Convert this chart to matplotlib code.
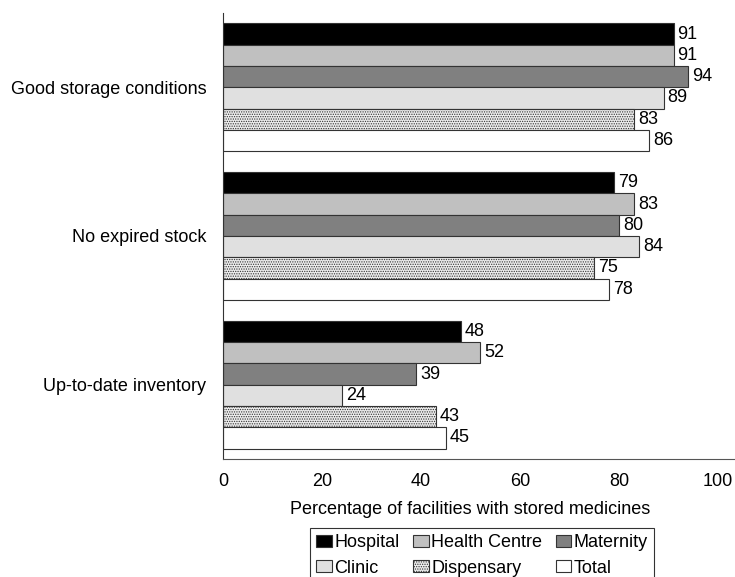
import numpy as np
import matplotlib.pyplot as plt

plt.rcParams['font.family'] = ['Liberation Sans', 'DejaVu Sans']
plt.rcParams['hatch.color'] = '#c4c4c4'
plt.rcParams['hatch.linewidth'] = 0.6

categories = ['Good storage conditions', 'No expired stock', 'Up-to-date inventory']
series = ['Hospital', 'Health Centre', 'Maternity', 'Clinic', 'Dispensary', 'Total']
values = {
    'Hospital':      [91, 79, 48],
    'Health Centre': [91, 83, 52],
    'Maternity':     [94, 80, 39],
    'Clinic':        [89, 84, 24],
    'Dispensary':    [83, 75, 43],
    'Total':         [86, 78, 45],
}
colors = ['#000000', '#c0c0c0', '#808080', '#e0e0e0', '#ececec', '#ffffff']
hatches = [None, None, None, None, '.......', None]

fig = plt.figure(figsize=[7.35, 5.77], dpi=100)
ax = fig.add_axes([0.3034, 0.2045, 0.6966, 0.773])

n = len(series)
h = 0.86 / n
y = np.arange(len(categories))
handles = []
for i, s in enumerate(series):
    pos = y - 0.43 + h * (i + 0.5)
    bars = ax.barh(pos, values[s], height=h, color=colors[i], edgecolor='#333333',
                   linewidth=0.8, hatch=hatches[i], label=s)
    handles.append(bars)
    for b, v in zip(bars, values[s]):
        ax.text(v + 0.8, b.get_y() + b.get_height() / 2, str(v), va='center', ha='left', fontsize=13)

ax.set_ylim(len(categories) - 0.5, -0.5)
ax.set_xlim(0, 103.4)
ax.set_xticks([0, 20, 40, 60, 80, 100])
ax.set_yticks(y)
ax.set_yticklabels(categories, fontsize=13)
ax.tick_params(axis='y', length=0, pad=12)
ax.tick_params(axis='x', labelsize=13, length=0, pad=10)
ax.spines['top'].set_visible(False)
ax.spines['right'].set_visible(False)
ax.spines['left'].set_color('#333333')
ax.spines['bottom'].set_color('#555555')
ax.set_xlabel('Percentage of facilities with stored medicines', fontsize=13)
ax.xaxis.set_label_coords(100 / 103.4 * 0.5, -0.095)

# legend fills row by row in the reference
order = [0, 3, 1, 4, 2, 5]
leg = ax.legend([handles[k] for k in order], [series[k] for k in order],
                loc='upper left', bbox_to_anchor=(87 / 512, -0.155), ncol=3, fontsize=13,
                frameon=True, fancybox=False, edgecolor='black', handlelength=0.85,
                handleheight=0.65, handletextpad=0.15, columnspacing=0.75, borderpad=0.35,
                labelspacing=0.45, borderaxespad=0)
leg.get_frame().set_linewidth(0.8)

plt.savefig('out.png', dpi=100)
